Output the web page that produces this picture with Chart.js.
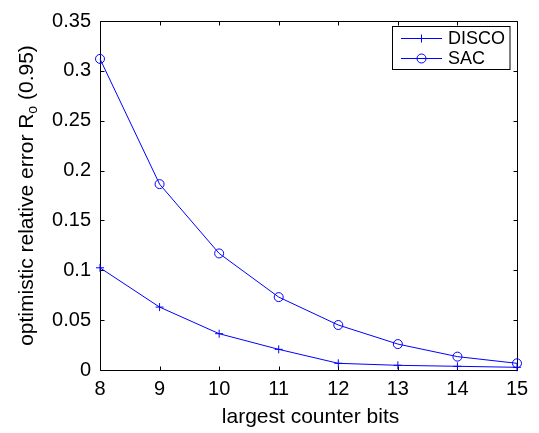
<!DOCTYPE html>
<html>
<head>
<meta charset="utf-8">
<script src="https://cdn.jsdelivr.net/npm/chart.js@4.4.0/dist/chart.umd.min.js"></script>
<style>
  html, body { margin: 0; padding: 0; background: #ffffff; }
  #wrap { width: 539px; height: 433px; }
</style>
</head>
<body>
<div id="wrap"><canvas id="c" width="539" height="433"></canvas></div>
<script>
// Largest counter size (bits) on the x axis
const counterBits = [8, 9, 10, 11, 12, 13, 14, 15];
// Optimistic relative error R_o at 95% confidence
const discoError = [0.1025, 0.0631, 0.0364, 0.0207, 0.0067, 0.0047, 0.0037, 0.0027];
const sacError   = [0.312, 0.1864, 0.1169, 0.0731, 0.0451, 0.026, 0.0134, 0.0067];
const yTickLabels = ['0', '0.05', '0.1', '0.15', '0.2', '0.25', '0.3', '0.35'];
const seriesNames = ['DISCO', 'SAC'];

const FONT = "'Liberation Sans', Arial, Helvetica, sans-serif";
const BLUE = '#0000ff';

// Boxed axes with inward tick marks, axis titles and a line+marker legend
const decorations = {
  id: 'decorations',
  beforeDatasetsDraw(chart) {
    const { ctx, chartArea: a, scales: { x, y } } = chart;
    ctx.save();
    ctx.strokeStyle = '#000';
    ctx.lineWidth = 1;
    ctx.beginPath();
    const L = Math.round(a.left) + 0.5, R = Math.round(a.right) + 0.5;
    const T = Math.round(a.top) + 0.5, B = Math.round(a.bottom) + 0.5;
    ctx.rect(L, T, R - L, B - T);
    const len = 4;
    x.ticks.forEach((t, i) => {
      const px = Math.round(x.getPixelForTick(i)) + 0.5;
      ctx.moveTo(px, B); ctx.lineTo(px, B - len);
      ctx.moveTo(px, T); ctx.lineTo(px, T + len);
    });
    y.ticks.forEach((t, i) => {
      const py = Math.round(y.getPixelForTick(i)) + 0.5;
      ctx.moveTo(L, py); ctx.lineTo(L + len, py);
      ctx.moveTo(R, py); ctx.lineTo(R - len, py);
    });
    ctx.stroke();
    ctx.restore();
  },
  afterDraw(chart) {
    const { ctx, chartArea: a } = chart;
    ctx.save();
    ctx.fillStyle = '#000';

    // x axis title
    ctx.font = '21px ' + FONT;
    ctx.textAlign = 'center';
    ctx.textBaseline = 'alphabetic';
    ctx.fillText('largest counter bits', (a.left + a.right) / 2 + 2, 423);

    // y axis title with subscript o
    ctx.save();
    ctx.translate(33, (a.top + a.bottom) / 2);
    ctx.rotate(-Math.PI / 2);
    const p1 = 'optimistic relative error R';
    const sub = 'o';
    const p2 = ' (0.95)';
    ctx.font = '21px ' + FONT;
    const w1 = ctx.measureText(p1).width;
    const w2 = ctx.measureText(p2).width;
    ctx.font = '14px ' + FONT;
    const ws = ctx.measureText(sub).width;
    const total = w1 + ws + w2;
    let cx = -total / 2;
    ctx.textAlign = 'left';
    ctx.font = '21px ' + FONT;
    ctx.fillText(p1, cx, 0);
    cx += w1;
    ctx.font = '14px ' + FONT;
    ctx.fillText(sub, cx, 4);
    cx += ws;
    ctx.font = '21px ' + FONT;
    ctx.fillText(p2, cx, 0);
    ctx.restore();

    // legend
    const bx = 392.5, by = 26.5, bw = 117.5, bh = 43;
    ctx.fillStyle = '#fff';
    ctx.fillRect(bx, by, bw, bh);
    ctx.strokeStyle = '#000';
    ctx.lineWidth = 1;
    ctx.strokeRect(bx, by, bw, bh);
    const rows = [38.5, 58.5];
    ctx.strokeStyle = BLUE;
    ctx.fillStyle = '#000';
    ctx.font = '18px ' + FONT;
    ctx.textAlign = 'left';
    ctx.textBaseline = 'middle';
    rows.forEach((ry, i) => {
      ctx.beginPath();
      ctx.moveTo(401, ry); ctx.lineTo(442, ry);
      if (i === 0) {
        ctx.moveTo(421.5, ry - 4); ctx.lineTo(421.5, ry + 4);
      }
      ctx.stroke();
      if (i === 1) {
        ctx.beginPath();
        ctx.arc(421.5, ry, 4.5, 0, Math.PI * 2);
        ctx.stroke();
      }
      ctx.fillText(seriesNames[i], 448, ry + 1);
    });
    ctx.restore();
  }
};

new Chart(document.getElementById('c'), {
  type: 'line',
  data: {
    labels: counterBits,
    datasets: [
      {
        label: seriesNames[0],
        data: discoError,
        borderColor: BLUE,
        backgroundColor: BLUE,
        borderWidth: 1,
        pointStyle: 'cross',
        pointRadius: 4,
        pointBorderWidth: 1,
        pointBorderColor: BLUE,
        fill: false,
        tension: 0,
        clip: false
      },
      {
        label: seriesNames[1],
        data: sacError,
        borderColor: BLUE,
        backgroundColor: 'rgba(0,0,0,0)',
        borderWidth: 1,
        pointStyle: 'circle',
        pointRadius: 4.5,
        pointBorderWidth: 1,
        pointBorderColor: BLUE,
        pointBackgroundColor: 'rgba(0,0,0,0)',
        fill: false,
        tension: 0,
        clip: false
      }
    ]
  },
  options: {
    responsive: false,
    animation: false,
    devicePixelRatio: 1,
    layout: { padding: { top: 21, right: 22, left: 0, bottom: 0 } },
    plugins: {
      legend: { display: false },
      tooltip: { enabled: false },
      title: { display: false }
    },
    scales: {
      x: {
        type: 'category',
        offset: false,
        grid: { display: false, drawTicks: false },
        border: { display: false },
        ticks: {
          color: '#000',
          font: { family: FONT, size: 20 },
          padding: 7,
          maxRotation: 0,
          autoSkip: false
        },
        afterFit(scale) { scale.height = 63; }
      },
      y: {
        type: 'linear',
        min: 0,
        max: 0.35,
        grid: { display: false, drawTicks: false },
        border: { display: false },
        ticks: {
          stepSize: 0.05,
          color: '#000',
          font: { family: FONT, size: 20 },
          padding: 9,
          callback: (v, i) => yTickLabels[i]
        },
        afterFit(scale) { scale.width = 100; }
      }
    }
  },
  plugins: [decorations]
});
</script>
</body>
</html>
